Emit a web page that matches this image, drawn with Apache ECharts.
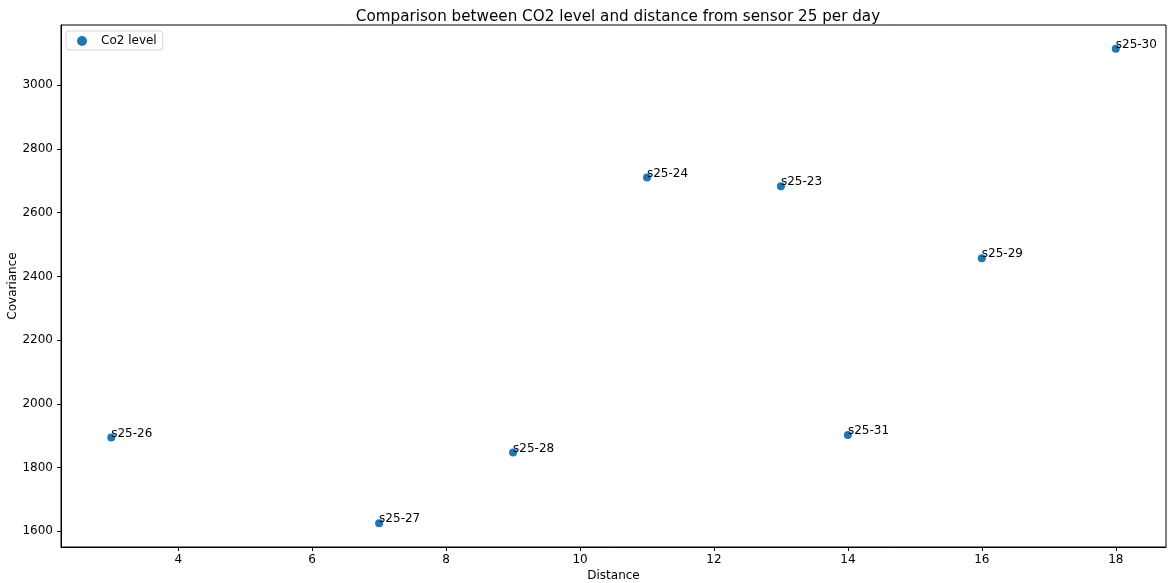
<!DOCTYPE html>
<html>
<head>
<meta charset="utf-8">
<script src="https://cdn.jsdelivr.net/npm/echarts@6/dist/echarts.min.js"></script>
<style>
  html, body { margin: 0; padding: 0; background: #fff; }
  #chart { width: 1168px; height: 583px; }
</style>
</head>
<body>
<div id="chart"></div>
<script>
// Sensor pairs, their distance from sensor 25 and the CO2 covariance
const sensors = ['s25-26', 's25-27', 's25-28', 's25-24', 's25-23', 's25-31', 's25-29', 's25-30'];
const distance = [3, 7, 9, 11, 13, 14, 16, 18];
const covariance = [1894, 1625, 1847, 2711, 2683, 1902, 2457, 3115];
const xTicks = [4, 6, 8, 10, 12, 14, 16, 18];
const yTicks = [1600, 1800, 2000, 2200, 2400, 2600, 2800, 3000];

const FONT = 'DejaVu Sans';
const points = distance.map((d, i) => ({ value: [d, covariance[i]], name: sensors[i] }));

// 5% padding around the data extent on both axes
const pad = (lo, hi) => { const m = (hi - lo) * 0.05; return [lo - m, hi + m]; };
const [xMin, xMax] = pad(Math.min(...distance), Math.max(...distance));
const [yMin, yMax] = pad(Math.min(...covariance), Math.max(...covariance));

const axisCommon = {
  axisLine: { show: true, onZero: false, lineStyle: { color: '#000', width: 1 } },
  axisTick: { show: true, length: 4, lineStyle: { color: '#000' } },
  splitLine: { show: false },
  axisLabel: { color: '#000', fontFamily: FONT, fontSize: 12, formatter: v => String(v) }
};

const chart = echarts.init(document.getElementById('chart'), null, { renderer: 'canvas' });
chart.setOption({
  animation: false,
  backgroundColor: '#fff',
  title: {
    text: 'Comparison between CO2 level and distance from sensor 25 per day',
    left: 613, top: 5, textAlign: 'center',
    textStyle: { fontFamily: FONT, fontSize: 15.2, fontWeight: 'normal', color: '#000' }
  },
  legend: {
    left: 66, top: 31,
    data: ['Co2 level'],
    itemWidth: 10, itemHeight: 10, itemGap: 0,
    padding: [4, 6, 3, 11],
    borderColor: '#d6d6d6', borderWidth: 1, borderRadius: 3,
    textStyle: { fontFamily: FONT, fontSize: 12, color: '#000', padding: [0, 0, 0, 9] }
  },
  grid: {
    left: 61, right: 2, top: 25, bottom: 36,
    outerBoundsMode: 'none', containLabel: false,
    show: true, borderColor: '#000', borderWidth: 1
  },
  xAxis: Object.assign({}, axisCommon, {
    type: 'value', min: xMin, max: xMax,
    name: 'Distance', nameLocation: 'middle', nameGap: 23, nameMoveOverlap: false,
    nameTextStyle: { fontFamily: FONT, fontSize: 12, color: '#000' },
    axisTick: Object.assign({}, axisCommon.axisTick, { customValues: xTicks }),
    axisLabel: Object.assign({}, axisCommon.axisLabel, { customValues: xTicks, margin: 7 })
  }),
  yAxis: Object.assign({}, axisCommon, {
    type: 'value', min: yMin, max: yMax,
    name: 'Covariance', nameLocation: 'middle', nameGap: 42, nameRotate: 90, nameMoveOverlap: false,
    nameTextStyle: { fontFamily: FONT, fontSize: 12, color: '#000' },
    axisTick: Object.assign({}, axisCommon.axisTick, { customValues: yTicks }),
    axisLabel: Object.assign({}, axisCommon.axisLabel, { customValues: yTicks, margin: 8 })
  }),
  series: [{
    name: 'Co2 level',
    type: 'scatter',
    data: points,
    symbol: 'circle',
    symbolSize: 8,
    itemStyle: { color: '#1f77b4', opacity: 1 },
    label: {
      show: true,
      formatter: p => p.name,
      position: [4, 4],
      align: 'left',
      verticalAlign: 'bottom',
      offset: [0, 2],
      fontFamily: FONT, fontSize: 12, color: '#000'
    }
  }]
});
</script>
</body>
</html>
